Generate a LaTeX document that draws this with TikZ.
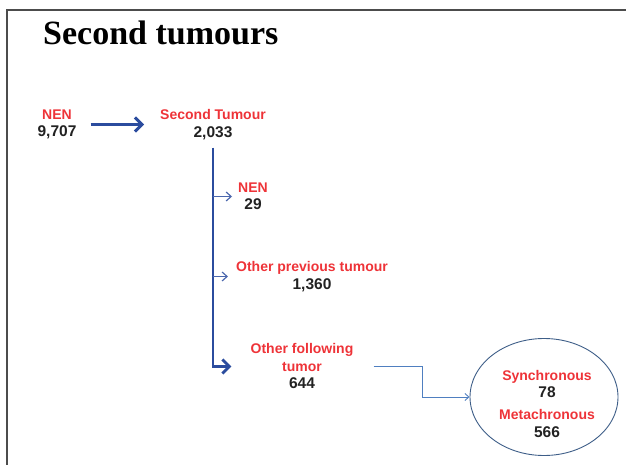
\documentclass[tikz,border=0pt]{standalone}
\usepackage{fontspec}
\setmainfont{Liberation Sans}
\newfontfamily\titlefont{Liberation Serif}
\usetikzlibrary{arrows.meta,shapes.geometric,positioning}
\definecolor{tred}{HTML}{EE3338}
\definecolor{tnum}{HTML}{222222}
\definecolor{tblue}{HTML}{2B4C9E}
\definecolor{lblue}{HTML}{4F7FC0}
\definecolor{eblue}{HTML}{3E5E88}
\newcommand{\num}[1]{\textcolor{tnum}{\fontsize{15.5}{17.5}\selectfont #1}}
\newcommand{\lab}[2]{\textcolor{tred}{#1}\\\num{#2}}
\begin{document}
\begin{tikzpicture}[x=1pt,y=-1pt,
	box/.style={align=center,inner sep=0pt,font=\fontsize{14}{17.5}\selectfont\bfseries},
	thickarr/.style={-{Straight Barb[length=7pt,width=14pt]},tblue,line width=2.9pt},
	thinarr/.style={-{Straight Barb[length=5pt,width=9pt]},tblue!85!white,line width=1.2pt},
	linkarr/.style={-{Straight Barb[length=4pt,width=7pt]},lblue,line width=0.9pt}]
	\useasboundingbox (0,0) rectangle (626,465);
	\draw[gray!60!black,line width=1.6pt] (626,10) -- (7,10) -- (7,465);
	\node[anchor=base west,inner sep=0pt,font=\titlefont\fontsize{34}{36}\selectfont\bfseries] (title) at (43,45) {Second tumours};
	% counts
	\node[box] (nen) at (57,124.5) {\lab{NEN}{9,707}};
	\node[box] (st) at (213,124.5) {\lab{Second Tumour}{2,033}};
	\node[box] (nen2) at (253,196.5) {\lab{NEN}{29}};
	\node[box] (prev) at (312,276.5) {\lab{Other previous tumour}{1,360}};
	\node[box] (foll) at (302,366.5) {\textcolor{tred}{Other following}\\\textcolor{tred}{tumor}\\\num{644}};
	\node[draw=eblue,ellipse,line width=0.9pt,minimum width=148pt,minimum height=117pt] (ell) at (544,397) {};
	\node[box] (sync) at (547,384) {\lab{Synchronous}{78}};
	\node[box] (meta) at (547,423.5) {\lab{Metachronous}{566}};
	% arrows
	\draw[thickarr,shorten <=14pt,shorten >=16pt] (nen.east) -- (st.west);
	\draw[thickarr,shorten <=8pt,shorten >=19pt] (st.south) -- (st.south |- foll.west) -- (foll.west);
	\draw[thinarr,shorten >=6pt] (st.south |- nen2.west) -- (nen2.west);
	\draw[thinarr,shorten >=8pt] (st.south |- prev.west) -- (prev.west);
	\draw[linkarr,shorten <=20pt] (foll.east) -- ++(69,0) |- (ell.west);
\end{tikzpicture}
\end{document}
